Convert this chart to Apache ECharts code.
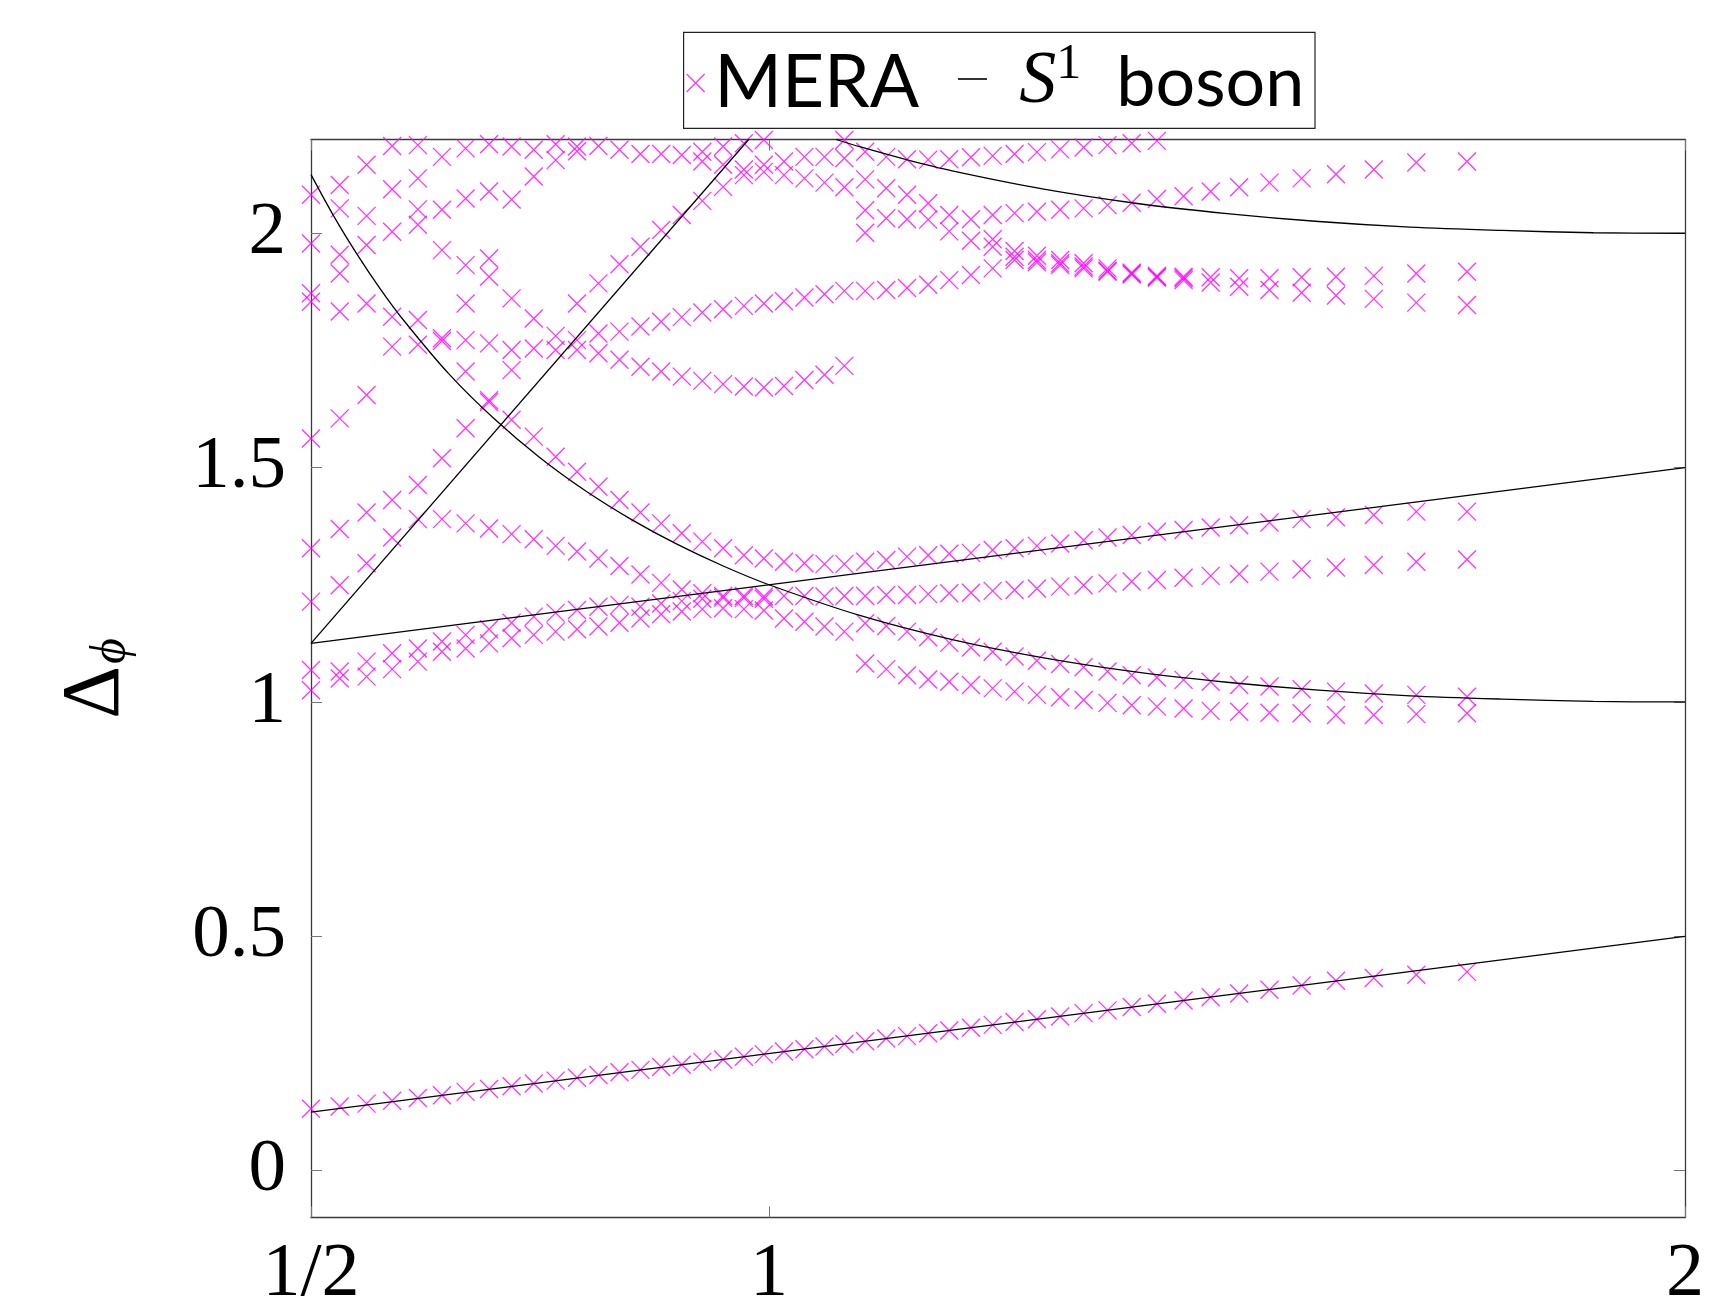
<!DOCTYPE html>
<html><head><meta charset="utf-8">
<script src="https://cdn.jsdelivr.net/npm/echarts@6/dist/echarts.min.js"></script>
<style>html,body{margin:0;padding:0;background:#fff}#c{width:1709px;height:1305px}</style>
</head><body><div id="c"></div>
<script>
// ---- data ----
const rCols = [0.500, 0.5314, 0.5607, 0.5886, 0.6167, 0.6430, 0.6688, 0.6944, 0.7190, 0.7432, 0.7671, 0.7904,
  0.8138, 0.8368, 0.8597, 0.8823, 0.9048, 0.9272, 0.9499, 0.9726, 0.9944, 1.0164, 1.0387, 1.0606, 1.0823,
  1.1050, 1.1280, 1.1507, 1.1738, 1.1968, 1.2205, 1.2442, 1.2681, 1.2925, 1.3179, 1.3435, 1.3696, 1.3960,
  1.4235, 1.4526, 1.4822, 1.5133, 1.5464, 1.5815, 1.6190, 1.6603, 1.7067, 1.7620];
const deltaGround = [0.132, 0.137, 0.143, 0.149, 0.155, 0.161, 0.168, 0.174, 0.180, 0.186, 0.192, 0.198,
  0.204, 0.210, 0.215, 0.221, 0.226, 0.232, 0.237, 0.243, 0.248, 0.254, 0.259, 0.265, 0.270, 0.276, 0.282,
  0.287, 0.293, 0.299, 0.305, 0.311, 0.317, 0.323, 0.329, 0.336, 0.342, 0.349, 0.356, 0.363, 0.370, 0.378,
  0.386, 0.395, 0.405, 0.411, 0.418, 0.424];
const deltaExcited = [
  [2.082, 1.978, 1.872, 1.854, 1.562, 1.328, 1.214, 1.068, 1.025],
  [2.103, 2.053, 1.954, 1.914, 1.833, 1.605, 1.369, 1.249, 1.065, 1.050],
  [2.146, 2.037, 1.975, 1.850, 1.655, 1.404, 1.296, 1.086, 1.054],
  [2.186, 2.094, 2.003, 1.822, 1.758, 1.431, 1.351, 1.104, 1.070],
  [2.188, 2.117, 2.051, 2.018, 1.815, 1.762, 1.463, 1.390, 1.114, 1.086],
  [2.163, 2.050, 1.964, 1.776, 1.770, 1.520, 1.390, 1.129, 1.107],
  [2.181, 2.074, 1.932, 1.850, 1.772, 1.705, 1.584, 1.381, 1.143, 1.114],
  [2.190, 2.089, 1.946, 1.907, 1.765, 1.644, 1.640, 1.370, 1.155, 1.125],
  [2.185, 2.072, 1.861, 1.751, 1.708, 1.602, 1.358, 1.169, 1.136],
  [2.178, 2.121, 1.818, 1.754, 1.566, 1.347, 1.182, 1.143],
  [2.190, 2.156, 1.781, 1.751, 1.523, 1.333, 1.190, 1.150],
  [2.185, 2.175, 1.850, 1.772, 1.751, 1.491, 1.321, 1.196, 1.155],
  [2.186, 1.893, 1.786, 1.744, 1.459, 1.306, 1.203, 1.161],
  [2.178, 1.934, 1.790, 1.730, 1.431, 1.290, 1.207, 1.169],
  [2.169, 1.971, 1.801, 1.715, 1.404, 1.272, 1.203, 1.178],
  [2.169, 2.007, 1.811, 1.705, 1.381, 1.254, 1.210, 1.187],
  [2.167, 2.039, 1.821, 1.694, 1.360, 1.240, 1.215, 1.193],
  [2.174, 2.153, 2.069, 1.831, 1.685, 1.342, 1.232, 1.220, 1.198],
  [2.185, 2.146, 2.099, 1.838, 1.678, 1.328, 1.226, 1.222, 1.200],
  [2.192, 2.136, 2.124, 1.845, 1.673, 1.313, 1.226, 1.222, 1.198],
  [2.199, 2.146, 2.131, 1.850, 1.671, 1.306, 1.225, 1.220, 1.195],
  [2.153, 2.124, 1.855, 1.674, 1.299, 1.226, 1.178],
  [2.163, 2.117, 1.863, 1.687, 1.296, 1.226, 1.171],
  [2.163, 2.108, 1.870, 1.698, 1.294, 1.225, 1.161],
  [2.199, 2.160, 2.098, 1.877, 1.717, 1.294, 1.226, 1.150],
  [2.174, 2.115, 2.049, 2.001, 1.877, 1.299, 1.226, 1.168, 1.082],
  [2.163, 2.096, 2.032, 1.879, 1.303, 1.228, 1.162, 1.070],
  [2.158, 2.082, 2.030, 1.883, 1.310, 1.228, 1.150, 1.057],
  [2.157, 2.064, 2.029, 1.890, 1.313, 1.230, 1.138, 1.048],
  [2.158, 2.039, 2.004, 1.900, 1.316, 1.232, 1.126, 1.043],
  [2.162, 2.030, 1.984, 1.911, 1.318, 1.233, 1.116, 1.036],
  [2.165, 2.039, 1.987, 1.971, 1.925, 1.324, 1.237, 1.107, 1.029],
  [2.169, 2.043, 1.962, 1.950, 1.943, 1.328, 1.239, 1.097, 1.022],
  [2.173, 2.046, 1.952, 1.943, 1.938, 1.333, 1.242, 1.088, 1.015],
  [2.179, 2.050, 1.943, 1.936, 1.932, 1.338, 1.246, 1.081, 1.010],
  [2.183, 2.053, 1.936, 1.929, 1.925, 1.345, 1.249, 1.074, 1.004],
  [2.188, 2.060, 1.925, 1.920, 1.918, 1.351, 1.253, 1.065, 0.998],
  [2.192, 2.065, 1.916, 1.914, 1.912, 1.356, 1.257, 1.057, 0.993],
  [2.197, 2.073, 1.909, 1.907, 1.905, 1.363, 1.260, 1.052, 0.990],
  [2.079, 1.907, 1.904, 1.900, 1.367, 1.265, 1.047, 0.986],
  [2.089, 1.906, 1.895, 1.372, 1.269, 1.043, 0.981],
  [2.098, 1.904, 1.886, 1.377, 1.273, 1.036, 0.979],
  [2.108, 1.904, 1.879, 1.383, 1.278, 1.033, 0.977],
  [2.117, 1.906, 1.873, 1.390, 1.283, 1.027, 0.976],
  [2.126, 1.907, 1.867, 1.394, 1.287, 1.022, 0.972],
  [2.136, 1.909, 1.860, 1.399, 1.292, 1.018, 0.972],
  [2.151, 1.914, 1.852, 1.406, 1.299, 1.015, 0.974],
  [2.153, 1.918, 1.847, 1.406, 1.304, 1.011, 0.976]
];
// S^1 boson reference curves
const lineLowR = [0.5, 2.0];
const lineLowDelta = [0.125, 0.5];
const lineMidR = [0.5, 2.0];
const lineMidDelta = [1.125, 1.5];
const lineSteepR = [0.5, 0.9778];
const lineSteepDelta = [1.125, 2.2];
const curveR = [0.5, 0.525, 0.55, 0.575, 0.6, 0.65, 0.7, 0.75, 0.8, 0.85, 0.9, 0.95, 1.0, 1.1, 1.2, 1.3, 1.4, 1.5, 1.6, 1.7, 1.8, 1.9, 2.0];
const curveDelta = [2.125, 2.036, 1.956, 1.883, 1.817, 1.701, 1.604, 1.521, 1.450, 1.389, 1.336, 1.290, 1.250, 1.184, 1.133, 1.094, 1.064, 1.042, 1.025, 1.013, 1.006, 1.001, 1.000];
const curveUpR = [1.0733, 1.1, 1.15, 1.2, 1.3, 1.4, 1.5, 1.6, 1.7, 1.8, 1.9, 2.0];
const curveUpDelta = [2.200, 2.184, 2.157, 2.133, 2.094, 2.064, 2.042, 2.025, 2.013, 2.006, 2.001, 2.000];
const xTickValues = [0.5, 1, 2];
const xTickLabels = ['1/2', '1', '2'];
const yTickValues = [0, 0.5, 1, 1.5, 2];
const yTickLabels = ['0', '0.5', '1', '1.5', '2'];

// ---- build ----
const meraPoints = [];
rCols.forEach((r, i) => {
  meraPoints.push([r, deltaGround[i]]);
  deltaExcited[i].forEach(d => meraPoints.push([r, d]));
});
const zip = (a, b) => a.map((v, i) => [v, b[i]]);
const lookup = (vals, labels) => v => {
  for (let i = 0; i < vals.length; i++) if (Math.abs(vals[i] - v) < 1e-6) return labels[i];
  return '';
};
const serif = "'Liberation Serif', 'DejaVu Serif', serif";
const sans = "Lato, Roboto, sans-serif";
const frame = {color: '#3a3a3a', width: 1.3};
const tick = {color: '#777', width: 1};
const crossPath = 'path://M0,0L10,10M10,0L0,10';

const lineSeries = (data) => ({
  type: 'line', name: 'S1', data, showSymbol: false, symbol: 'none', smooth: 0.3,
  lineStyle: {color: '#000', width: 1.3}, itemStyle: {color: '#000'}, silent: true, z: 3
});

const chart = echarts.init(document.getElementById('c'));
chart.setOption({
  animation: false,
  backgroundColor: '#fff',
  grid: {left: 311, right: 24, top: 139.5, bottom: 87.5, containLabel: false, outerBoundsMode: 'none'},
  xAxis: [
    {type: 'value', min: 0.5, max: 2, position: 'bottom',
     axisLine: {show: true, onZero: false, lineStyle: frame},
     axisTick: {show: true, inside: true, length: 11, lineStyle: tick, customValues: xTickValues},
     axisLabel: {customValues: xTickValues, formatter: lookup(xTickValues, xTickLabels), fontFamily: serif,
                 fontSize: 76, color: '#000', margin: 20, showMinLabel: true, showMaxLabel: true},
     splitLine: {show: false}},
    {type: 'value', min: 0.5, max: 2, position: 'top',
     axisLine: {show: true, onZero: false, lineStyle: frame},
     axisTick: {show: true, inside: true, length: 11, lineStyle: tick, customValues: xTickValues},
     axisLabel: {show: false}, splitLine: {show: false}}
  ],
  yAxis: [
    {type: 'value', min: -0.1, max: 2.2, position: 'left',
     axisLine: {show: true, onZero: false, lineStyle: frame},
     axisTick: {show: true, inside: true, length: 11, lineStyle: tick, customValues: yTickValues},
     axisLabel: {customValues: yTickValues, formatter: lookup(yTickValues, yTickLabels), fontFamily: serif,
                 fontSize: 75, color: '#000', margin: 25, showMinLabel: true, showMaxLabel: true},
     splitLine: {show: false},
     name: '{d|Δ}{s|ϕ}', nameLocation: 'middle', nameGap: 174, nameRotate: 90,
     nameTextStyle: {color: '#000', rich: {
       d: {fontFamily: serif, fontSize: 82, color: '#000'},
       s: {fontFamily: serif, fontStyle: 'italic', fontSize: 50, color: '#000', verticalAlign: 'bottom', padding: [26, 0, 0, 2]}
     }}},
    {type: 'value', min: -0.1, max: 2.2, position: 'right',
     axisLine: {show: true, onZero: false, lineStyle: frame},
     axisTick: {show: true, inside: true, length: 11, lineStyle: tick, customValues: yTickValues},
     axisLabel: {show: false}, splitLine: {show: false}}
  ],
  legend: {
    left: 686, top: 40, padding: 0, orient: 'horizontal',
    itemWidth: 27, itemHeight: 18, itemGap: 48, selectedMode: false, symbolKeepAspect: true,
    data: [
      {name: 'MERA', icon: crossPath, itemStyle: {color: 'rgba(0,0,0,0)', borderColor: '#ff00ff', borderWidth: 1.3}},
      {name: 'S1', icon: 'none'}
    ],
    formatter: name => name === 'MERA' ? '{t|MERA}' : '{i|S}{p|1}{b|boson}',
    textStyle: {color: '#000', rich: {
      t: {fontFamily: sans, fontSize: 73, color: '#000'},
      b: {fontFamily: sans, fontSize: 70, color: '#000', padding: [0, 0, 0, 35]},
      i: {fontFamily: serif, fontStyle: 'italic', fontSize: 74, color: '#000', padding: [0, 0, 0, 20]},
      p: {fontFamily: serif, fontSize: 50, color: '#000', verticalAlign: 'top', padding: [0, 0, 36, 0]}
    }}
  },
  graphic: [
    {type: 'rect', shape: {x: 683.6, y: 32.3, width: 631.4, height: 96},
     style: {fill: 'none', stroke: '#222', lineWidth: 1.2}, silent: true},
    {type: 'line', shape: {x1: 958, y1: 79, x2: 987, y2: 79},
     style: {stroke: '#000', lineWidth: 1.6}, silent: true}
  ],
  series: [
    {type: 'scatter', name: 'MERA', data: meraPoints, symbol: crossPath, symbolSize: 18, symbolKeepAspect: true,
     itemStyle: {color: 'rgba(0,0,0,0)', borderColor: '#ff00ff', borderWidth: 1.3}, z: 2, silent: true},
    lineSeries(zip(lineLowR, lineLowDelta)),
    lineSeries(zip(lineMidR, lineMidDelta)),
    lineSeries(zip(lineSteepR, lineSteepDelta)),
    lineSeries(zip(curveR, curveDelta)),
    lineSeries(zip(curveUpR, curveUpDelta))
  ]
});
</script></body></html>
